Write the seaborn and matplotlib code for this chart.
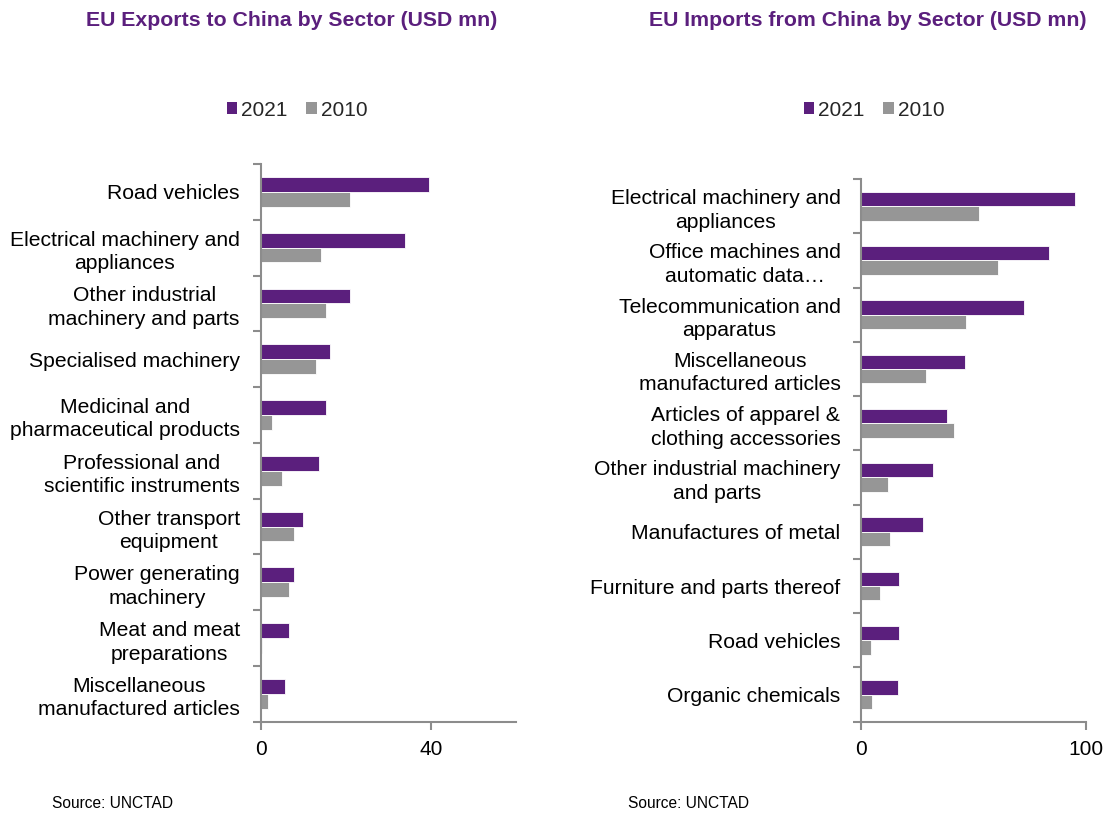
import matplotlib
matplotlib.use('Agg')
import matplotlib.pyplot as plt
import seaborn as sns
import pandas as pd
from matplotlib.patches import Patch
from matplotlib.ticker import FixedLocator, NullFormatter

sns.set_theme(style='white')
plt.rcParams['font.family'] = ['Liberation Sans', 'DejaVu Sans']

# ---------------- data ----------------
years = ['2021', '2010']

export_sectors = [
    'Road vehicles',
    'Electrical machinery and\nappliances',
    'Other industrial\nmachinery and parts',
    'Specialised machinery',
    'Medicinal and\npharmaceutical products',
    'Professional and\nscientific instruments',
    'Other transport\nequipment',
    'Power generating\nmachinery',
    'Meat and meat\npreparations',
    'Miscellaneous\nmanufactured articles',
]
export_2021 = [39.5, 33.9, 20.9, 16.3, 15.4, 13.8, 10.0, 7.9, 6.7, 5.8]
export_2010 = [21.0, 14.1, 15.3, 12.9, 2.7, 5.0, 7.9, 6.6, 0.2, 1.8]

import_sectors = [
    'Electrical machinery and\nappliances',
    'Office machines and\nautomatic data…',
    'Telecommunication and\napparatus',
    'Miscellaneous\nmanufactured articles',
    'Articles of apparel &\nclothing accessories',
    'Other industrial machinery\nand parts',
    'Manufactures of metal',
    'Furniture and parts thereof',
    'Road vehicles',
    'Organic chemicals',
]
import_2021 = [95.0, 83.4, 72.3, 46.0, 38.2, 31.7, 27.3, 16.8, 16.6, 16.5]
import_2010 = [52.2, 60.9, 46.4, 28.9, 41.1, 11.7, 12.9, 8.5, 4.4, 4.8]

export_ticks = [0, 40]
import_ticks = [0, 100]

titles = ['EU Exports to China by Sector (USD mn)',
          'EU Imports from China by Sector (USD mn)']
source_text = 'Source: UNCTAD'

# ---------------- styling ----------------
PURPLE = '#5B1F7D'
GREY = '#969696'
AXIS = '#8C8C8C'
palette = {'2021': PURPLE, '2010': GREY}


def make_df(sectors, v2021, v2010):
    return pd.DataFrame({
        'sector': sectors * 2,
        'value': v2021 + v2010,
        'year': ['2021'] * len(sectors) + ['2010'] * len(sectors),
    })


W, H = 1105, 814
fig = plt.figure(figsize=(W / 100, H / 100), dpi=100)

ax1 = fig.add_axes([260.7 / W, 1 - 721.7 / H, 255.3 / W, (721.7 - 164) / H])
ax2 = fig.add_axes([861.3 / W, 1 - 721.7 / H, 225.0 / W, (721.7 - 179) / H])

panels = [
    (ax1, make_df(export_sectors, export_2021, export_2010), export_sectors, (0, 60), export_ticks),
    (ax2, make_df(import_sectors, import_2021, import_2010), import_sectors, (0, 100), import_ticks),
]

for ax, df, sectors, xlim, xticks in panels:
    sns.barplot(data=df, x='value', y='sector', hue='year', hue_order=years,
                order=sectors, palette=palette, orient='h', width=0.53,
                dodge=True, legend=False, ax=ax, saturation=1,
                edgecolor='white', linewidth=0.6)
    n = len(sectors)
    ax.set_xlim(*xlim)
    ax.set_ylim(n - 0.5, -0.5)
    ax.set_xlabel('')
    ax.set_ylabel('')
    ax.set_xticks(xticks)
    ax.set_xticklabels([str(t) for t in xticks], fontsize=15, color='black')
    ax.set_yticks(range(n))
    ax.set_yticklabels(sectors, fontsize=15.2, color='black', ha='right',
                       multialignment='center', linespacing=1.3)
    ax.tick_params(axis='y', which='major', length=0, pad=15)
    ax.yaxis.set_minor_locator(FixedLocator([i - 0.5 for i in range(n + 1)]))
    ax.yaxis.set_minor_formatter(NullFormatter())
    ax.tick_params(axis='y', which='minor', left=True, length=6, width=1.5,
                   color=AXIS, direction='out')
    ax.tick_params(axis='x', which='major', bottom=True, length=6, width=1.5,
                   color=AXIS, direction='out', pad=7)
    for side in ['top', 'right']:
        ax.spines[side].set_visible(False)
    for side in ['left', 'bottom']:
        ax.spines[side].set_visible(True)
        ax.spines[side].set_color(AXIS)
        ax.spines[side].set_linewidth(1.5)
    ax.grid(False)
    ax.set_facecolor('white')

handles = [Patch(facecolor=palette[y], edgecolor='none', label=y) for y in years]
for cx in [297 / W, 874 / W]:
    fig.legend(handles=handles, loc='center', bbox_to_anchor=(cx, 1 - 110 / H),
               ncol=2, frameon=False, fontsize=15, handlelength=0.5,
               handleheight=0.5, handletextpad=0.2, columnspacing=0.9,
               borderaxespad=0, borderpad=0)

fig.text(291.5 / W, 1 - 21 / H, titles[0], ha='center', va='center',
         fontsize=15.3, fontweight='bold', color=PURPLE)
fig.text(868 / W, 1 - 21 / H, titles[1], ha='center', va='center',
         fontsize=15.3, fontweight='bold', color=PURPLE)

fig.text(52 / W, 1 - 803 / H, source_text, ha='left', va='center',
         fontsize=11.2, color='black')
fig.text(628 / W, 1 - 803 / H, source_text, ha='left', va='center',
         fontsize=11.2, color='black')

fig.savefig('out.png', dpi=100, facecolor='white')
